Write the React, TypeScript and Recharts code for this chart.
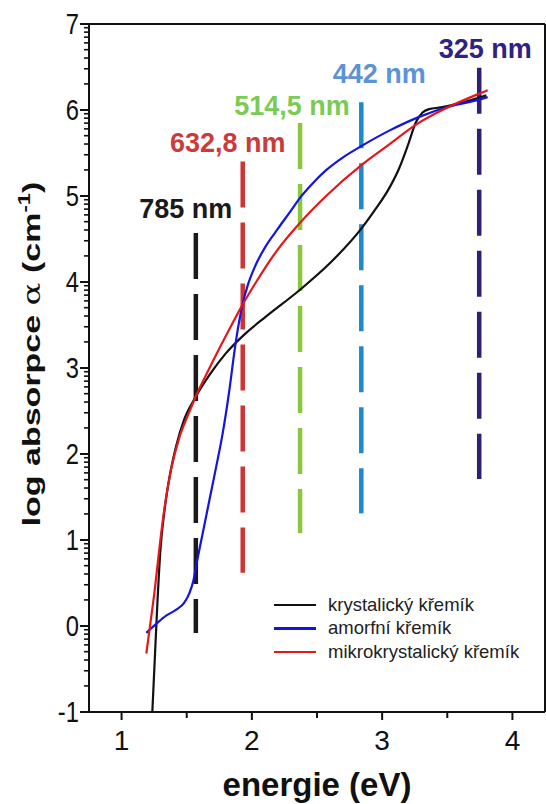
import { LineChart, Line, XAxis, YAxis, ReferenceLine, Legend } from "recharts";

const FONT = '"Liberation Sans", Arial, Helvetica, sans-serif';

// absorption curves: energy (eV) and log alpha (cm^-1)
const krystE = [1.236, 1.256, 1.276, 1.3, 1.33, 1.37, 1.42, 1.48, 1.567, 1.675, 1.8, 1.95, 2.11, 2.37, 2.6, 2.84, 2.95, 3.05, 3.13, 3.2, 3.26, 3.31, 3.36, 3.45, 3.6, 3.8];
const krystV = [-1.0, -0.35, 0.3, 0.92, 1.35, 1.75, 2.1, 2.4, 2.66, 2.92, 3.17, 3.4, 3.6, 3.91, 4.22, 4.62, 4.85, 5.08, 5.32, 5.6, 5.86, 5.97, 6.01, 6.03, 6.08, 6.17];

const amorfE = [1.19, 1.27, 1.342, 1.42, 1.48, 1.52, 1.55, 1.575, 1.623, 1.675, 1.726, 1.776, 1.828, 1.867, 1.9, 1.93, 1.97, 2.03, 2.1, 2.2, 2.3, 2.365, 2.45, 2.57, 2.7, 2.84, 3.055, 3.285, 3.515, 3.745, 3.81];
const amorfV = [-0.08, 0.03, 0.12, 0.19, 0.27, 0.38, 0.52, 0.72, 1.08, 1.47, 1.85, 2.24, 2.75, 3.2, 3.52, 3.75, 3.97, 4.2, 4.4, 4.62, 4.83, 4.97, 5.12, 5.3, 5.45, 5.58, 5.76, 5.92, 6.04, 6.12, 6.15];

const mikroE = [1.19, 1.22, 1.253, 1.29, 1.33, 1.38, 1.445, 1.509, 1.567, 1.675, 1.803, 1.93, 2.033, 2.19, 2.365, 2.57, 2.85, 3.055, 3.26, 3.49, 3.745, 3.81];
const mikroV = [-0.32, 0.02, 0.4, 0.9, 1.38, 1.82, 2.2, 2.45, 2.66, 3.0, 3.38, 3.74, 4.0, 4.36, 4.68, 5.0, 5.37, 5.6, 5.83, 6.02, 6.19, 6.23];

const seriesNames = ["krystalický křemík", "amorfní křemík", "mikrokrystalický křemík"];
const seriesColors = ["#111111", "#1414e0", "#e6161c"];

// laser excitation lines
const laserLabels = ["785 nm", "632,8 nm", "514,5 nm", "442 nm", "325 nm"];
const laserE = [1.57, 1.93, 2.37, 2.84, 3.745];
const laserTop = [4.57, 5.4, 5.85, 6.09, 6.49];
const laserBottom = [-0.08, 0.62, 1.08, 1.31, 1.71];
const laserColors = ["#1a1a1a", "#cf3434", "#8cc63f", "#1e88c8", "#2c1f74"];
const laserTextColors = ["#1a1a1a", "#cc3a3a", "#7acb55", "#5b93d6", "#2e2282"];
const labelShift = [[-10, -15], [-15, -10], [-8, -8], [18, -19], [6, -10]];

const xTicks = [1, 1.5, 2, 2.5, 3, 3.5, 4];
const yMajor = [-1, 0, 1, 2, 3, 4, 5, 6, 7];
const yMinor = yMajor.slice(0, -1).flatMap((d) => [2, 3, 4, 5, 6, 7, 8, 9].map((k) => d + Math.log10(k)));
const yTicks = [...yMajor, ...yMinor].sort((a, b) => a - b);

const toPts = (xs: number[], ys: number[]) => xs.map((x, i) => ({ x, y: ys[i] }));
const curves = [toPts(krystE, krystV), toPts(amorfE, amorfV), toPts(mikroE, mikroV)];

function YTick(props: any) {
  const { x, y, payload } = props;
  const major = yMajor.includes(payload.value);
  const len = major ? 9 : 5;
  return (
    <g>
      <rect x={x - len} y={y - 1} width={len} height={major ? 2 : 1.6} fill="#111" />
      {major && (
        <text transform={`translate(${x - 10},${y + 10}) scale(0.82,1)`} textAnchor="end" fontFamily={FONT} fontSize={29} fill="#111">
          {payload.value}
        </text>
      )}
    </g>
  );
}

function XTick(props: any) {
  const { x, y, payload } = props;
  const major = Number.isInteger(payload.value);
  return (
    <g>
      <rect x={x - 1} y={y} width={2} height={major ? 8 : 6} fill="#111" />
      {major && (
        <text x={x} y={y + 38} textAnchor="middle" fontFamily={FONT} fontSize={28} fill="#111">
          {payload.value}
        </text>
      )}
    </g>
  );
}

function LegendBox({ payload }: any) {
  const list = payload || [];
  const items = seriesNames
    .map((n) => list.find((p: any) => p.value === n))
    .filter(Boolean);
  return (
    <div style={{ fontFamily: FONT, fontSize: 18.5, color: "#222" }}>
      {items.map((p: any) => (
        <div key={p.value} style={{ display: "flex", alignItems: "center", height: 23.5 }}>
          <span style={{ display: "inline-block", width: 42, height: 2.5, background: p.color, marginRight: 12 }} />
          <span>{p.value}</span>
        </div>
      ))}
    </div>
  );
}

export default function App() {
  return (
    <div style={{ position: "absolute", left: 0, top: 0, width: 546, height: 804, background: "#fff" }}>
      <LineChart width={546} height={804} margin={{ top: 24, right: 1, bottom: 0, left: 0 }}>
        <XAxis
          dataKey="x"
          type="number"
          domain={[0.75, 4.25]}
          ticks={xTicks}
          interval={0}
          allowDataOverflow
          height={92}
          tickSize={0}
          tickMargin={0}
          tickLine={false}
          axisLine={{ stroke: "#111", strokeWidth: 2 }}
          tick={<XTick />}
          label={{
            content: () => (
              <text x={317} y={796} textAnchor="middle" fontFamily={FONT} fontWeight="bold" fontSize={33} fill="#111">
                energie (eV)
              </text>
            ),
          }}
        />
        <YAxis
          type="number"
          domain={[-1, 7]}
          ticks={yTicks}
          interval={0}
          allowDataOverflow
          width={89}
          tickSize={0}
          tickMargin={0}
          tickLine={false}
          axisLine={{ stroke: "#111", strokeWidth: 2 }}
          tick={<YTick />}
          label={{
            content: () => (
              <text transform="translate(40,354) rotate(-90) scale(1,0.72)" textAnchor="middle" fontFamily={FONT} fontWeight="bold" fontSize={34} fill="#111">
                log absorpce{" "}
                <tspan fontFamily='"DejaVu Serif", serif' fontWeight="normal">α</tspan> (cm
                <tspan fontSize={22} dy={-14}>-1</tspan>
                <tspan dy={14}>)</tspan>
              </text>
            ),
          }}
        />
        <ReferenceLine y={7} stroke="#111" strokeWidth={2} />
        <ReferenceLine x={4.25} stroke="#111" strokeWidth={2} />

        {laserLabels.map((lbl, i) => (
          <Line
            key={lbl}
            data={[{ x: laserE[i], y: laserTop[i] }, { x: laserE[i], y: laserBottom[i] }]}
            dataKey="y"
            type="linear"
            stroke={laserColors[i]}
            strokeWidth={4.5}
            strokeDasharray="46 15"
            dot={false}
            activeDot={false}
            legendType="none"
            isAnimationActive={false}
            label={(p: any) =>
              p.index === 0 ? (
                <text
                  key={lbl}
                  x={p.x + labelShift[i][0]}
                  y={p.y + labelShift[i][1]}
                  textAnchor="middle"
                  fontFamily={FONT}
                  fontWeight="bold"
                  fontSize={27}
                  fill={laserTextColors[i]}
                >
                  {lbl}
                </text>
              ) : (
                <g key={lbl + "-b"} />
              )
            }
          />
        ))}

        {curves.map((pts, i) => (
          <Line
            key={seriesNames[i]}
            name={seriesNames[i]}
            data={pts}
            dataKey="y"
            type="monotone"
            stroke={seriesColors[i]}
            strokeWidth={2.2}
            dot={false}
            activeDot={false}
            isAnimationActive={false}
          />
        ))}

        <Legend
          layout="vertical"
          align="center"
          verticalAlign="middle"
          wrapperStyle={{ left: 274, top: 593, width: 260 }}
          content={<LegendBox />}
        />
      </LineChart>
    </div>
  );
}
